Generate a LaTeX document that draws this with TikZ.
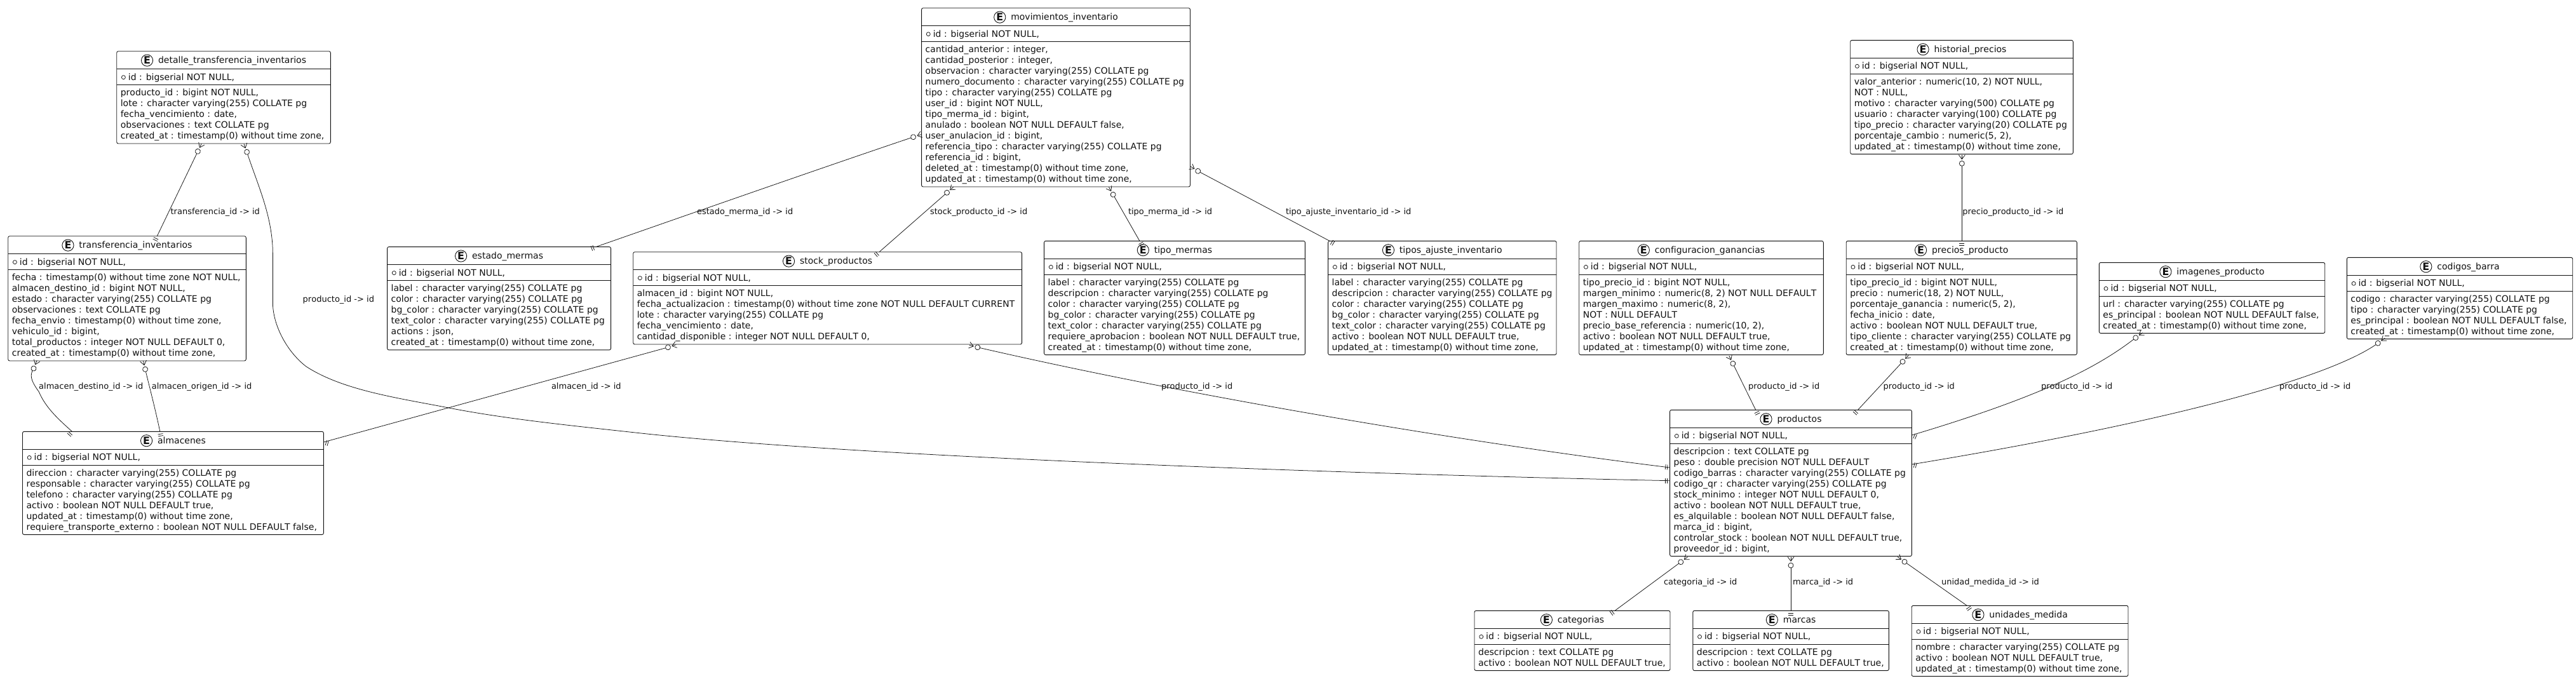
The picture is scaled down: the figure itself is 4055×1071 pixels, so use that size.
\documentclass[tikz,border=0pt]{standalone}
\usepackage{fontspec}
\setmainfont{DejaVu Sans}[Ligatures=NoCommon,Kerning=Off]
\catcode`\_=12
\newcount\attrn
\definecolor{ink}{HTML}{111111}
\tikzset{
  entbox/.style={draw=ink,line width=0.9pt,rounded corners=2.5pt,inner sep=0pt,outer sep=0pt,anchor=north west},
  entline/.style={draw=ink,line width=0.9pt},
  titletext/.style={inner sep=0pt,outer sep=0pt,anchor=base,text=ink,font=\fontsize{14}{17}\selectfont},
  attrtext/.style={inner sep=0pt,outer sep=0pt,anchor=base west,text=ink,font=\fontsize{14}{17}\selectfont},
  reltext/.style={inner sep=0pt,outer sep=0pt,anchor=base west,text=ink,font=\fontsize{13}{16}\selectfont},
  spot/.style={circle,draw=ink,line width=0.9pt,minimum size=18.2pt,inner sep=0pt,outer sep=0pt,text=ink,font=\fontsize{16}{16}\selectfont\bfseries},
  rel/.style={draw=ink,line width=0.75pt},
  crowend/.pic={
    \draw[rel] (6.7,0)--(13.5,5);
    \draw[rel] (6.7,0)--(13.5,-5);
    \draw[rel] (6.7,0)--(13.5,0);
    \draw[rel,fill=white] (0,0) circle (4pt);
  },
  barend/.pic={
    \draw[rel] (4,-4)--(4,4);
    \draw[rel] (7,-4)--(7,4);
  }
}
\newcommand\entity[6]{%
  \pgfmathsetmacro\entW{#3-#2}%
  \pgfmathsetmacro\entH{60.3+17*#5}%
  \node[entbox,minimum width=\entW pt,minimum height=\entH pt] (#1) at (#2,#4) {};
  \node[titletext] (#1-t) at ([shift={(13.5,19)}]#1.north) {#6};
  \node[spot] (#1-e) at ([shift={(-17.5,-4.6)}]#1-t.base west) {E};
  \draw[entline] ([shift={(0,27.7)}]#1.north west)--([shift={(0,27.7)}]#1.north east);
  \draw[entline] ([shift={(0,52.7)}]#1.north west)--([shift={(0,52.7)}]#1.north east);
  \draw[line width=0.75pt,draw=ink] ([shift={(10.7,41)}]#1.north west) circle (3pt);
  \node[attrtext] (#1-i) at ([shift={(18.2,45.5)}]#1.north west) {id : bigserial NOT NULL,};
  \gdef\curent{#1}\global\attrn=0
}
\newcommand\attr[1]{%
  \pgfmathsetmacro\attrY{70+17*\the\attrn}%
  \node[attrtext] (\curent-a\the\attrn) at ([shift={(6.1,\attrY)}]\curent.north west) {#1};
  \global\advance\attrn by 1
}
\begin{document}
\begin{tikzpicture}[x=1pt,y=-1pt]
\path[use as bounding box,fill=white] (0,0) rectangle (4055,1071);

\entity{det}{183.7}{520.4}{80.7}{5}{detalle_transferencia_inventarios}
\attr{producto_id : bigint NOT NULL,}
\attr{lote : character varying(255) COLLATE pg}
\attr{fecha_vencimiento : date,}
\attr{observaciones : text COLLATE pg}
\attr{created_at : timestamp(0) without time zone,}

\entity{trans}{12.7}{387.3}{371.7}{8}{transferencia_inventarios}
\attr{fecha : timestamp(0) without time zone NOT NULL,}
\attr{almacen_destino_id : bigint NOT NULL,}
\attr{estado : character varying(255) COLLATE pg}
\attr{observaciones : text COLLATE pg}
\attr{fecha_envio : timestamp(0) without time zone,}
\attr{vehiculo_id : bigint,}
\attr{total_productos : integer NOT NULL DEFAULT 0,}
\attr{created_at : timestamp(0) without time zone,}

\entity{alm}{35.5}{509.4}{679.3}{6}{almacenes}
\attr{direccion : character varying(255) COLLATE pg}
\attr{responsable : character varying(255) COLLATE pg}
\attr{telefono : character varying(255) COLLATE pg}
\attr{activo : boolean NOT NULL DEFAULT true,}
\attr{updated_at : timestamp(0) without time zone,}
\attr{requiere_transporte_externo : boolean NOT NULL DEFAULT false,}

\entity{mov}{1450.6}{1873.5}{12.7}{13}{movimientos_inventario}
\attr{cantidad_anterior : integer,}
\attr{cantidad_posterior : integer,}
\attr{observacion : character varying(255) COLLATE pg}
\attr{numero_documento : character varying(255) COLLATE pg}
\attr{tipo : character varying(255) COLLATE pg}
\attr{user_id : bigint NOT NULL,}
\attr{tipo_merma_id : bigint,}
\attr{anulado : boolean NOT NULL DEFAULT false,}
\attr{user_anulacion_id : bigint,}
\attr{referencia_tipo : character varying(255) COLLATE pg}
\attr{referencia_id : bigint,}
\attr{deleted_at : timestamp(0) without time zone,}
\attr{updated_at : timestamp(0) without time zone,}

\entity{est}{609.6}{961.6}{388.6}{6}{estado_mermas}
\attr{label : character varying(255) COLLATE pg}
\attr{color : character varying(255) COLLATE pg}
\attr{bg_color : character varying(255) COLLATE pg}
\attr{text_color : character varying(255) COLLATE pg}
\attr{actions : json,}
\attr{created_at : timestamp(0) without time zone,}

\entity{stock}{996.7}{1608.6}{396.7}{5}{stock_productos}
\attr{almacen_id : bigint NOT NULL,}
\attr{fecha_actualizacion : timestamp(0) without time zone NOT NULL DEFAULT CURRENT}
\attr{lote : character varying(255) COLLATE pg}
\attr{fecha_vencimiento : date,}
\attr{cantidad_disponible : integer NOT NULL DEFAULT 0,}

\entity{tmer}{1643.6}{2054.4}{379.3}{7}{tipo_mermas}
\attr{label : character varying(255) COLLATE pg}
\attr{descripcion : character varying(255) COLLATE pg}
\attr{color : character varying(255) COLLATE pg}
\attr{bg_color : character varying(255) COLLATE pg}
\attr{text_color : character varying(255) COLLATE pg}
\attr{requiere_aprobacion : boolean NOT NULL DEFAULT true,}
\attr{created_at : timestamp(0) without time zone,}

\entity{taj}{2090.6}{2450}{379.3}{7}{tipos_ajuste_inventario}
\attr{label : character varying(255) COLLATE pg}
\attr{descripcion : character varying(255) COLLATE pg}
\attr{color : character varying(255) COLLATE pg}
\attr{bg_color : character varying(255) COLLATE pg}
\attr{text_color : character varying(255) COLLATE pg}
\attr{activo : boolean NOT NULL DEFAULT true,}
\attr{updated_at : timestamp(0) without time zone,}

\entity{conf}{2485.7}{2870.3}{379.3}{7}{configuracion_ganancias}
\attr{tipo_precio_id : bigint NOT NULL,}
\attr{margen_minimo : numeric(8, 2) NOT NULL DEFAULT}
\attr{margen_maximo : numeric(8, 2),}
\attr{NOT : NULL DEFAULT}
\attr{precio_base_referencia : numeric(10, 2),}
\attr{activo : boolean NOT NULL DEFAULT true,}
\attr{updated_at : timestamp(0) without time zone,}

\entity{prec}{2906.2}{3269.3}{379.3}{7}{precios_producto}
\attr{tipo_precio_id : bigint NOT NULL,}
\attr{precio : numeric(18, 2) NOT NULL,}
\attr{porcentaje_ganancia : numeric(5, 2),}
\attr{fecha_inicio : date,}
\attr{activo : boolean NOT NULL DEFAULT true,}
\attr{tipo_cliente : character varying(255) COLLATE pg}
\attr{created_at : timestamp(0) without time zone,}

\entity{hist}{2912.7}{3263.3}{63.3}{7}{historial_precios}
\attr{valor_anterior : numeric(10, 2) NOT NULL,}
\attr{NOT : NULL,}
\attr{motivo : character varying(500) COLLATE pg}
\attr{usuario : character varying(100) COLLATE pg}
\attr{tipo_precio : character varying(20) COLLATE pg}
\attr{porcentaje_cambio : numeric(5, 2),}
\attr{updated_at : timestamp(0) without time zone,}

\entity{img}{3304.3}{3659.7}{413.3}{3}{imagenes_producto}
\attr{url : character varying(255) COLLATE pg}
\attr{es_principal : boolean NOT NULL DEFAULT false,}
\attr{created_at : timestamp(0) without time zone,}

\entity{cod}{3694.3}{4049.7}{405.3}{4}{codigos_barra}
\attr{codigo : character varying(255) COLLATE pg}
\attr{tipo : character varying(255) COLLATE pg}
\attr{es_principal : boolean NOT NULL DEFAULT false,}
\attr{created_at : timestamp(0) without time zone,}

\entity{prod}{2628.6}{3009.4}{645.3}{10}{productos}
\attr{descripcion : text COLLATE pg}
\attr{peso : double precision NOT NULL DEFAULT}
\attr{codigo_barras : character varying(255) COLLATE pg}
\attr{codigo_qr : character varying(255) COLLATE pg}
\attr{stock_minimo : integer NOT NULL DEFAULT 0,}
\attr{activo : boolean NOT NULL DEFAULT true,}
\attr{es_alquilable : boolean NOT NULL DEFAULT false,}
\attr{marca_id : bigint,}
\attr{controlar_stock : boolean NOT NULL DEFAULT true,}
\attr{proveedor_id : bigint,}

\entity{cat}{2321}{2629}{961.3}{2}{categorias}
\attr{descripcion : text COLLATE pg}
\attr{activo : boolean NOT NULL DEFAULT true,}

\entity{mar}{2664.8}{2973.4}{961.3}{2}{marcas}
\attr{descripcion : text COLLATE pg}
\attr{activo : boolean NOT NULL DEFAULT true,}

\entity{uni}{3009.2}{3350}{953.3}{3}{unidades_medida}
\attr{nombre : character varying(255) COLLATE pg}
\attr{activo : boolean NOT NULL DEFAULT true,}
\attr{updated_at : timestamp(0) without time zone,}

% connectors
% det -> trans
\draw[rel] ([shift={(311.4-183.7,238.3-80.7)}]det.north west) -- ([shift={(247.3-12.7,0)}]trans.north west);
\pic[rotate=64.4] at ([shift={(311.4-183.7,238.3-80.7)}]det.north west) {crowend};
\pic[rotate=-115.6] at ([shift={(247.3-12.7,0)}]trans.north west) {barend};
% det -> prod
\draw[rel] ([shift={(388.6-183.7,239.3-80.7)}]det.north west)
  .. controls (405,290) and (429.4,340) .. (429.4,400)
  -- (429.4,476.7)
  .. controls (429.4,510) and (450,552) .. (481.6,576.7)
  .. controls (540,615) and (630,627) .. (709.8,642.7)
  .. controls (800,660) and (900,670) .. (1000,681)
  .. controls (1400,725) and (2300,750) .. ([shift={(0,756.7-645.3)}]prod.north west);
\pic[rotate=110] at ([shift={(388.6-183.7,239.3-80.7)}]det.north west) {crowend};
\pic[rotate=180] at ([shift={(0,756.7-645.3)}]prod.north west) {barend};
% trans -> alm (destino)
\draw[rel] ([shift={(53-12.7,580-371.7)}]trans.north west)
  .. controls (47,590) and (47,597) .. (61.2,616.7)
  .. controls (72,642) and (92,660) .. ([shift={(113.5-35.5,0)}]alm.north west);
\pic[rotate=68] at ([shift={(53-12.7,580-371.7)}]trans.north west) {crowend};
\pic[rotate=-133] at ([shift={(113.5-35.5,0)}]alm.north west) {barend};
% trans -> alm (origen)
\draw[rel] ([shift={(228.6-12.7,581.3-371.7)}]trans.north west) .. controls (233,600) and (246,650) .. ([shift={(251.8-35.5,0)}]alm.north west);
\pic[rotate=103] at ([shift={(228.6-12.7,581.3-371.7)}]trans.north west) {crowend};
\pic[rotate=-80] at ([shift={(251.8-35.5,0)}]alm.north west) {barend};
% mov -> est
\draw[rel] ([shift={(1437.6-1450.6,215.7-12.7)}]mov.north west) .. controls (1300,262) and (1100,332) .. ([shift={(938-609.6,0)}]est.north west);
\pic[rotate=18] at ([shift={(1437.6-1450.6,215.7-12.7)}]mov.north west) {crowend};
\pic[rotate=-160.5] at ([shift={(938-609.6,0)}]est.north west) {barend};
% mov -> stock
\draw[rel] ([shift={(1490.6-1450.6,303.3-12.7)}]mov.north west) -- ([shift={(1384-996.7,0)}]stock.north west);
\pic[rotate=41] at ([shift={(1490.6-1450.6,303.3-12.7)}]mov.north west) {crowend};
\pic[rotate=-139] at ([shift={(1384-996.7,0)}]stock.north west) {barend};
% mov -> tipo_mermas
\draw[rel] ([shift={(1752.2-1450.6,306.3-12.7)}]mov.north west) -- ([shift={(1793.9-1643.6,0)}]tmer.north west);
\pic[rotate=119.8] at ([shift={(1752.2-1450.6,306.3-12.7)}]mov.north west) {crowend};
\pic[rotate=-60.2] at ([shift={(1793.9-1643.6,0)}]tmer.north west) {barend};
% mov -> tipos_ajuste
\draw[rel] ([shift={(1885.7-1450.6,269.3-12.7)}]mov.north west) -- ([shift={(2093-2090.6,0)}]taj.north west);
\pic[rotate=148] at ([shift={(1885.7-1450.6,269.3-12.7)}]mov.north west) {crowend};
\pic[rotate=-32] at ([shift={(2093-2090.6,0)}]taj.north west) {barend};
% stock -> alm
\draw[rel] ([shift={(1051.5-996.7,546.7-396.7)}]stock.north west) -- ([shift={(0,696-679.3)}]alm.north east);
\pic[rotate=18] at ([shift={(1051.5-996.7,546.7-396.7)}]stock.north west) {crowend};
\pic[rotate=-16] at ([shift={(0,696-679.3)}]alm.north east) {barend};
% stock -> prod
\draw[rel] ([shift={(1538.8-996.7,546.7-396.7)}]stock.north west) .. controls (1900,630) and (2350,702) .. ([shift={(0,736-645.3)}]prod.north west);
\pic[rotate=165] at ([shift={(1538.8-996.7,546.7-396.7)}]stock.north west) {crowend};
\pic[rotate=173] at ([shift={(0,736-645.3)}]prod.north west) {barend};
% hist -> prec
\draw[rel] ([shift={(3088.3-2912.7,257.3-63.3)}]hist.north west) -- ([shift={(3088.3-2906.2,0)}]prec.north west);
\pic[rotate=90] at ([shift={(3088.3-2912.7,257.3-63.3)}]hist.north west) {crowend};
\pic[rotate=-90] at ([shift={(3088.3-2906.2,0)}]prec.north west) {barend};
% conf -> prod
\draw[rel] ([shift={(2727.8-2485.7,572.3-379.3)}]conf.north west) -- ([shift={(2763.7-2628.6,0)}]prod.north west);
\pic[rotate=116.2] at ([shift={(2727.8-2485.7,572.3-379.3)}]conf.north west) {crowend};
\pic[rotate=-63.8] at ([shift={(2763.7-2628.6,0)}]prod.north west) {barend};
% prec -> prod
\draw[rel] ([shift={(2995-2906.2,569.3-379.3)}]prec.north west) -- ([shift={(2924.5-2628.6,0)}]prod.north west);
\pic[rotate=47] at ([shift={(2995-2906.2,569.3-379.3)}]prec.north west) {crowend};
\pic[rotate=-133] at ([shift={(2924.5-2628.6,0)}]prod.north west) {barend};
% img -> prod
\draw[rel] ([shift={(3361.8-3304.3,531.7-413.3)}]img.north west) .. controls (3300,580) and (3210,625) .. ([shift={(0,685-645.3)}]prod.north east);
\pic[rotate=36] at ([shift={(3361.8-3304.3,531.7-413.3)}]img.north west) {crowend};
\pic[rotate=-21] at ([shift={(0,685-645.3)}]prod.north east) {barend};
% cod -> prod
\draw[rel] ([shift={(3743.2-3694.3,540.2-405.3)}]cod.north west) .. controls (3660,600) and (3380,670) .. ([shift={(0,731-645.3)}]prod.north east);
\pic[rotate=36] at ([shift={(3743.2-3694.3,540.2-405.3)}]cod.north west) {crowend};
\pic[rotate=-13] at ([shift={(0,731-645.3)}]prod.north east) {barend};
% prod -> cat
\draw[rel] ([shift={(2645.8-2628.6,884.7-645.3)}]prod.north west) -- ([shift={(2542-2321,0)}]cat.north west);
\pic[rotate=36.4] at ([shift={(2645.8-2628.6,884.7-645.3)}]prod.north west) {crowend};
\pic[rotate=-143.6] at ([shift={(2542-2321,0)}]cat.north west) {barend};
% prod -> mar
\draw[rel] ([shift={(2819-2628.6,890-645.3)}]prod.north west) -- ([shift={(2819-2664.8,0)}]mar.north west);
\pic[rotate=90] at ([shift={(2819-2628.6,890-645.3)}]prod.north west) {crowend};
\pic[rotate=-90] at ([shift={(2819-2664.8,0)}]mar.north west) {barend};
% prod -> uni
\draw[rel] ([shift={(2998-2628.6,884.3-645.3)}]prod.north west) -- ([shift={(3096.2-3009.2,0)}]uni.north west);
\pic[rotate=144.9] at ([shift={(2998-2628.6,884.3-645.3)}]prod.north west) {crowend};
\pic[rotate=-55] at ([shift={(3096.2-3009.2,0)}]uni.north west) {barend};

% labels
\node[reltext] (l1) at (268.6,337.8) {transferencia_id -> id};
\node[reltext] (l2) at (476.7,475.2) {producto_id -> id};
\node[reltext] (l3) at (61.2,612.2) {almacen_destino_id -> id};
\node[reltext] (l4) at (238.8,612.2) {almacen_origen_id -> id};
\node[reltext] (l5) at (1097,337.8) {estado_merma_id -> id};
\node[reltext] (l6) at (1464,337.8) {stock_producto_id -> id};
\node[reltext] (l7) at (1776,337.8) {tipo_merma_id -> id};
\node[reltext] (l8) at (2024,337.8) {tipo_ajuste_inventario_id -> id};
\node[reltext] (l9) at (868,612.2) {almacen_id -> id};
\node[reltext] (l10) at (1828,612.2) {producto_id -> id};
\node[reltext] (l11) at (3089.3,337.8) {precio_producto_id -> id};
\node[reltext] (l12) at (2752,612.2) {producto_id -> id};
\node[reltext] (l13) at (2964.5,612.2) {producto_id -> id};
\node[reltext] (l14) at (3213,612.2) {producto_id -> id};
\node[reltext] (l15) at (3588,612.2) {producto_id -> id};
\node[reltext] (l16) at (2619,920.5) {categoria_id -> id};
\node[reltext] (l17) at (2822,920.5) {marca_id -> id};
\node[reltext] (l18) at (3056,920.5) {unidad_medida_id -> id};
\end{tikzpicture}
\end{document}
